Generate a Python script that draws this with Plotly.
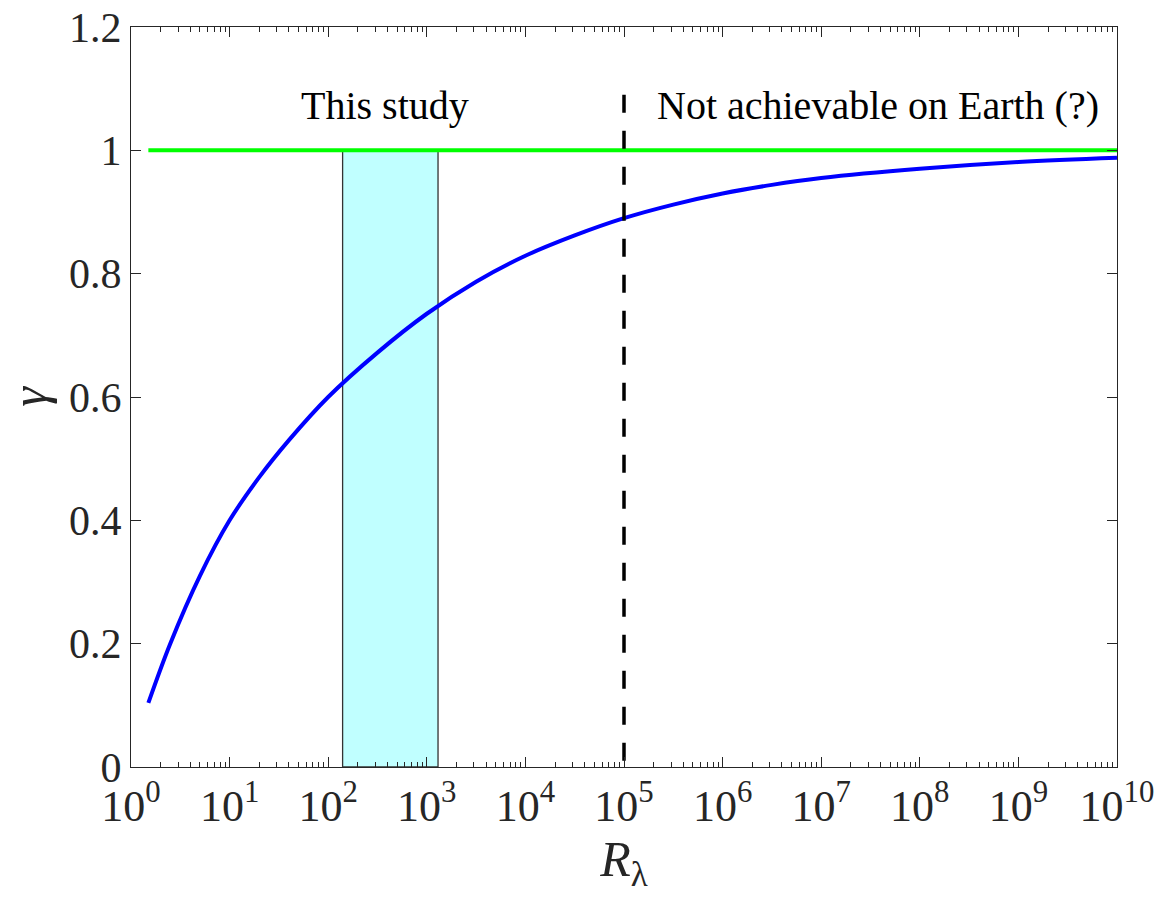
import plotly.graph_objects as go

# gamma vs R_lambda
r_lambda = [1.5, 2.5, 5, 10, 20, 40, 100, 316, 1000, 3162, 1e4, 31623, 1e5,
            316228, 1e6, 3.16e6, 1e7, 1e8, 1e9, 1e10]
gamma = [0.104, 0.20, 0.31, 0.40, 0.47, 0.53, 0.60, 0.672, 0.735, 0.787, 0.829, 0.862, 0.89,
         0.912, 0.93, 0.944, 0.955, 0.970, 0.981, 0.988]

# reference line gamma = 1
ref_x = [1.5, 1e10]
ref_y = [1.0, 1.0]

# "This study" range
study_range = [140, 1300]
study_top = 1.0

# limit of Earth-achievable R_lambda
earth_limit = 1e5
earth_line_y = [1.09, 0.0]

x_tickvals = [10**k for k in range(0, 11)]
x_ticktext = ["10<sup>%d</sup>" % k for k in range(0, 11)]
y_tickvals = [0, 0.2, 0.4, 0.6, 0.8, 1.0, 1.2]
y_ticktext = ["0", "0.2", "0.4", "0.6", "0.8", "1", "1.2"]

FONT = "Liberation Serif, Times New Roman, serif"
AXC = "#262626"

fig = go.Figure()

fig.add_trace(go.Scatter(
    x=[study_range[0], study_range[1], study_range[1], study_range[0], study_range[0]],
    y=[0, 0, study_top, study_top, 0],
    mode="lines", fill="toself", fillcolor="#C0FFFF",
    line=dict(color="#333333", width=1.3), hoverinfo="skip", showlegend=False))

fig.add_trace(go.Scatter(x=ref_x, y=ref_y, mode="lines",
                         line=dict(color="#00FF00", width=4), showlegend=False))

fig.add_trace(go.Scatter(x=r_lambda, y=gamma, mode="lines",
                         line=dict(color="#0000FF", width=4, shape="spline", smoothing=1.0),
                         showlegend=False))

fig.add_trace(go.Scatter(x=[earth_limit, earth_limit], y=earth_line_y, mode="lines",
                         line=dict(color="black", width=3.5, dash="18px,18px"),
                         showlegend=False))

fig.add_annotation(x=2.58, y=1.072, text="This study", showarrow=False,
                   font=dict(family=FONT, size=40, color="black"),
                   xanchor="center", yanchor="middle")
fig.add_annotation(x=5.31, y=1.072, text="Not achievable on Earth (?)", showarrow=False,
                   font=dict(family=FONT, size=40, color="black"),
                   xanchor="left", yanchor="middle")

fig.update_layout(
    width=1164, height=900,
    margin=dict(l=131, r=47, t=27, b=133, autoexpand=False),
    paper_bgcolor="white", plot_bgcolor="white",
    font=dict(family=FONT, size=42, color=AXC),
    xaxis=dict(type="log", range=[0, 10], tickvals=x_tickvals, ticktext=x_ticktext,
               automargin=False,
               ticks="inside", ticklen=10, tickwidth=1, tickcolor=AXC,
               showline=True, linecolor=AXC, linewidth=1, mirror="allticks",
               showgrid=False, zeroline=False,
               minor=dict(ticks="inside", ticklen=5, tickwidth=1, tickcolor=AXC,
                          dtick="D1", showgrid=False),
               tickfont=dict(family=FONT, size=44, color=AXC),
               title=dict(text="<i>R</i><sub>λ</sub>", font=dict(family=FONT, size=50, color=AXC),
                          standoff=6)),
    yaxis=dict(range=[0, 1.2], tickvals=y_tickvals, ticktext=y_ticktext,
               automargin=False,
               ticks="inside", ticklen=10, tickwidth=1, tickcolor=AXC,
               showline=True, linecolor=AXC, linewidth=1, mirror="allticks",
               showgrid=False, zeroline=False,
               tickfont=dict(family=FONT, size=42, color=AXC),
               title=dict(text="<i>γ</i>", font=dict(family=FONT, size=50, color=AXC),
                          standoff=6)),
)

fig.write_html("out.html")
